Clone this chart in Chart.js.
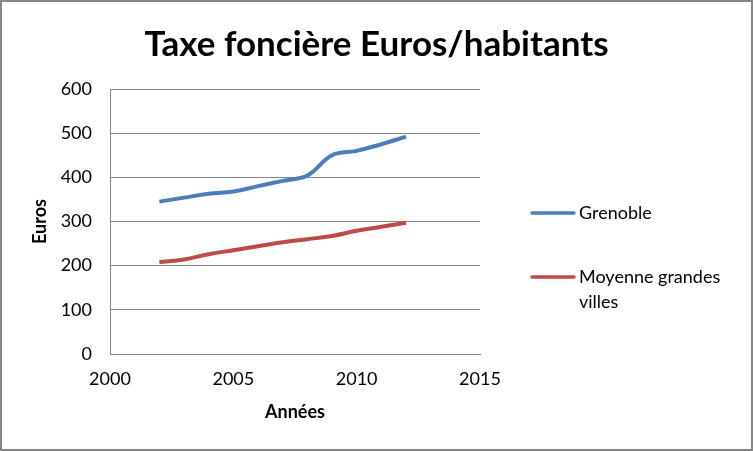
<!DOCTYPE html>
<html>
<head>
<meta charset="utf-8">
<style>
  body { margin: 0; background: #fff; }
</style>
</head>
<body>
<canvas id="taxe-chart" width="753" height="451"></canvas>
<script src="https://cdn.jsdelivr.net/npm/chart.js@4/dist/chart.umd.min.js"></script>
<script>
// donnees
var annees = [2002, 2003, 2004, 2005, 2006, 2007, 2008, 2009, 2010, 2011, 2012];
var grenoble = [345, 354, 363, 368, 380, 392, 404, 450, 460, 475, 492];
var moyenneGrandesVilles = [208, 214, 226, 235, 244, 253, 260, 267, 279, 288, 297];
var seriesNames = ["Grenoble", ["Moyenne grandes", "villes"]];
var seriesColors = ["#4A7EBB", "#BE4B48"];
var yTicks = [0, 100, 200, 300, 400, 500, 600];
var xTicks = [2000, 2005, 2010, 2015];
var titre = "Taxe foncière Euros/habitants";

var police = "Lato, 'Open Sans', sans-serif";
var gris = "#868686";

function points(values) {
  return annees.map(function (a, i) { return { x: a, y: values[i] }; });
}

// fond blanc, cadre gris et titre centre sur toute la largeur
var cadre = {
  id: "cadre",
  beforeDraw: function (chart) {
    var ctx = chart.ctx;
    ctx.save();
    ctx.fillStyle = "#fff";
    ctx.fillRect(0, 0, chart.width, chart.height);
    ctx.strokeStyle = gris;
    ctx.lineWidth = 2;
    ctx.strokeRect(1, 1, chart.width - 2, chart.height - 2);
    ctx.fillStyle = "#000";
    ctx.font = "bold 35px " + police;
    ctx.textAlign = "center";
    ctx.textBaseline = "middle";
    ctx.fillText(titre, chart.width / 2, 45);
    ctx.restore();
  }
};

// legende a droite, avec retour a la ligne
var legendeDroite = {
  id: "legendeDroite",
  afterDraw: function (chart) {
    var ctx = chart.ctx;
    var x0 = chart.chartArea.right + 52;
    var ys = [213, 277];
    ctx.save();
    ctx.font = "18px " + police;
    ctx.textBaseline = "middle";
    ctx.fillStyle = "#000";
    chart.data.datasets.forEach(function (ds, i) {
      ctx.strokeStyle = ds.borderColor;
      ctx.lineWidth = 3.5;
      ctx.lineCap = "round";
      ctx.beginPath();
      ctx.moveTo(x0, ys[i]);
      ctx.lineTo(x0 + 42, ys[i]);
      ctx.stroke();
      var lignes = [].concat(seriesNames[i]);
      lignes.forEach(function (t, k) {
        ctx.fillText(t, x0 + 47, ys[i] + k * 25);
      });
    });
    ctx.restore();
  }
};

new Chart(document.getElementById("taxe-chart"), {
  type: "line",
  data: {
    datasets: [
      {
        label: "Grenoble",
        data: points(grenoble),
        borderColor: seriesColors[0],
        backgroundColor: seriesColors[0],
        borderWidth: 4,
        pointRadius: 0,
        tension: 0.4,
        fill: false
      },
      {
        label: "Moyenne grandes villes",
        data: points(moyenneGrandesVilles),
        borderColor: seriesColors[1],
        backgroundColor: seriesColors[1],
        borderWidth: 4,
        pointRadius: 0,
        tension: 0.4,
        fill: false
      }
    ]
  },
  options: {
    responsive: false,
    animation: false,
    layout: { padding: { left: 0, right: 273, top: 89, bottom: 0 } },
    plugins: {
      legend: { display: false },
      tooltip: { enabled: false },
      title: { display: false }
    },
    scales: {
      x: {
        type: "linear",
        min: xTicks[0],
        max: xTicks[xTicks.length - 1],
        afterBuildTicks: function (scale) {
          scale.ticks = xTicks.map(function (v) { return { value: v }; });
        },
        afterFit: function (scale) { scale.height = 97; },
        grid: { display: false, drawTicks: false },
        border: { display: true, color: gris, width: 1 },
        ticks: {
          color: "#000",
          padding: 14,
          maxRotation: 0,
          font: { family: police, size: 18 },
          callback: function (v) { return String(v); }
        },
        title: {
          display: true,
          text: "Années",
          color: "#000",
          font: { family: police, size: 18, weight: "bold" },
          padding: { top: 4, bottom: 28 }
        }
      },
      y: {
        min: yTicks[0],
        max: yTicks[yTicks.length - 1],
        afterBuildTicks: function (scale) {
          scale.ticks = yTicks.map(function (v) { return { value: v }; });
        },
        afterFit: function (scale) { scale.width = 110; },
        grid: { color: gris, lineWidth: 1, drawTicks: false },
        border: { display: true, color: gris, width: 1 },
        ticks: {
          color: "#000",
          padding: 18,
          font: { family: police, size: 18 }
        },
        title: {
          display: true,
          text: "Euros",
          color: "#000",
          font: { family: police, size: 18, weight: "bold" },
          padding: { top: 29, bottom: 4 }
        }
      }
    }
  },
  plugins: [cadre, legendeDroite]
});
</script>
</body>
</html>
